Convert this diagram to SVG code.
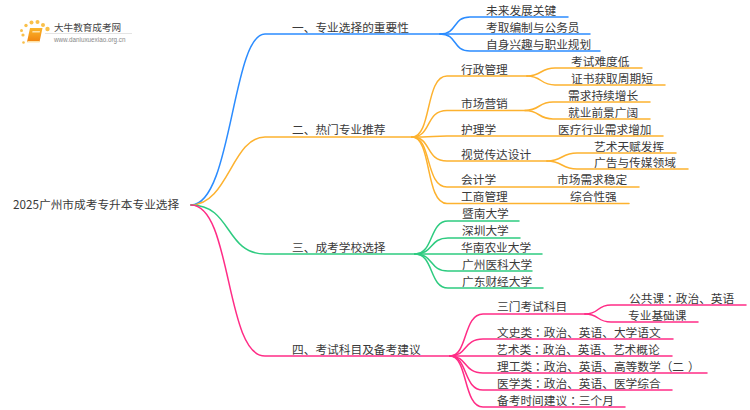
<svg xmlns="http://www.w3.org/2000/svg" width="750" height="410" viewBox="0 0 750 410">
<defs><linearGradient id="book" x1="0" y1="0" x2="0" y2="1"><stop offset="0" stop-color="#fbb62b"/><stop offset="1" stop-color="#f0830f"/></linearGradient></defs>
<style>
text{font-family:"Noto Sans CJK SC","Liberation Sans",sans-serif;font-size:11.7px;fill:#3a3a3a}
.k{font-family:"Noto Sans CJK JP","Noto Sans CJK SC",sans-serif}
.c path{fill:none;stroke-width:1.5;stroke-linecap:round}
.b path{stroke:#2b8cff}.o path{stroke:#fdb22f}.g path{stroke:#2ecb80}.p path{stroke:#ff2c86}
</style>
<rect width="750" height="410" fill="#fff"/>
<g id="logo">
<g fill="#f9c04a"><circle cx="23" cy="35" r="1.6"/><circle cx="21.500" cy="30.500" r="1.500"/><circle cx="26" cy="25.500" r="1.700"/><circle cx="31.500" cy="22.500" r="2"/><circle cx="37.500" cy="22" r="2"/><circle cx="43" cy="25" r="2"/><circle cx="47.500" cy="29" r="2.200"/><circle cx="23.500" cy="42.500" r="1.300"/></g>
<path d="M30 28h12.500l-3 14h-12.500z" fill="url(#book)"/><path d="M27 42.500h12.500l.5-1.500h-12.500z" fill="#fde2a8"/><path d="M32.500 31h7.500l-.3 1.500h-7.500z" fill="#fde2a8"/>
<path d="M45 33.500H132" stroke="#e4e4e4" stroke-width="1"/>
<text x="54" y="31" style="font-size:9.600px;fill:#444">大牛教育成考网</text>
<text x="54" y="41.500" style="font-size:6.300px;fill:#888;font-family:'Liberation Sans',sans-serif">www.daniuxuexiao.org.cn</text>
</g>
<g id="connectors" class="c">
<g class="b">
<path d="M191 205C232 205 232 34 265 34H440"/>
<path d="M440 34C458 34 452 17 470 17H568"/>
<path d="M440 34H590"/>
<path d="M440 34C458 34 452 51 470 51H600"/>
</g>
<g class="o">
<path d="M191 205C228 205 232 137 265 137H412"/>
<path d="M412 137C432 137 425 76 447 76H527"/>
<path d="M412 137C432 137 425 110.500 447 110.500H525"/>
<path d="M412 137C430 137 435 136 447 136H663"/>
<path d="M412 137C432 137 425 161 447 161H547"/>
<path d="M412 137C432 137 425 187 447 187H639"/>
<path d="M412 137C432 137 425 203.500 447 203.500H629"/>
<path d="M527 76C542 76 540 68 555 68H642"/>
<path d="M527 76C542 76 540 85 555 85H665"/>
<path d="M525 110.500C540 110.500 538 102 553 102H650"/>
<path d="M525 110.500C540 110.500 538 119 553 119H650"/>
<path d="M547 161C563 161 561 153 577 153H676"/>
<path d="M547 161C563 161 561 169 577 169H688"/>
</g>
<g class="g">
<path d="M191 205C232 205 225 254 265 254H415"/>
<path d="M415 254C434 254 429 221 448 221H519"/>
<path d="M415 254C434 254 429 238 448 238H520"/>
<path d="M415 254H542"/>
<path d="M415 254C434 254 429 271 448 271H532"/>
<path d="M415 254C434 254 429 288 448 288H543"/>
</g>
<g class="p">
<path d="M191 205C232 205 225 356 265 356H450"/>
<path d="M450 356C468 356 463 314 483 314H585"/>
<path d="M450 356C468 356 463 339 483 339H673"/>
<path d="M450 356H672"/>
<path d="M450 356C468 356 463 373 483 373H707"/>
<path d="M450 356C468 356 463 390 483 390H672"/>
<path d="M450 356C468 356 463 407 483 407H625"/>
<path d="M585 314C600 314 596 305 611 305H746"/>
<path d="M585 314C600 314 596 322 611 322H698"/>
</g>
</g>
<g id="root"><text x="13" y="209">2025广州市成考专升本专业选择</text></g>
<g id="b1"><text x="292" y="32">一、专业选择的重要性</text></g>
<g id="b1-1"><text x="486" y="15">未来发展关键</text></g>
<g id="b1-2"><text x="486" y="32">考取编制与公务员</text></g>
<g id="b1-3"><text x="486" y="49">自身兴趣与职业规划</text></g>
<g id="b2"><text x="292" y="134">二、热门专业推荐</text></g>
<g id="b2-1"><text x="461" y="74">行政管理</text></g>
<g id="b2-1-1"><text x="571" y="66">考试难度低</text></g>
<g id="b2-1-2"><text x="571" y="83">证书获取周期短</text></g>
<g id="b2-2"><text x="461" y="108">市场营销</text></g>
<g id="b2-2-1"><text x="568" y="100">需求持续增长</text></g>
<g id="b2-2-2"><text x="568" y="117">就业前景广阔</text></g>
<g id="b2-3"><text x="461" y="134">护理学</text></g>
<g id="b2-3-1"><text x="558" y="134">医疗行业需求增加</text></g>
<g id="b2-4"><text x="461" y="159">视觉传达设计</text></g>
<g id="b2-4-1"><text x="594" y="151">艺术天赋发挥</text></g>
<g id="b2-4-2"><text x="594" y="167">广告与传媒领域</text></g>
<g id="b2-5"><text x="461" y="184">会计学</text></g>
<g id="b2-5-1"><text x="557" y="184">市场需求稳定</text></g>
<g id="b2-6"><text x="461" y="201">工商管理</text></g>
<g id="b2-6-1"><text x="570" y="201">综合性强</text></g>
<g id="b3"><text x="292" y="252">三、成考学校选择</text></g>
<g id="b3-1"><text x="462" y="218">暨南大学</text></g>
<g id="b3-2"><text x="462" y="235">深圳大学</text></g>
<g id="b3-3"><text x="461" y="252">华南农业大学</text></g>
<g id="b3-4"><text x="462" y="269">广州医科大学</text></g>
<g id="b3-5"><text x="462" y="286">广东财经大学</text></g>
<g id="b4"><text x="292" y="354">四、考试科目及备考建议</text></g>
<g id="b4-1"><text x="497" y="311">三门考试科目</text></g>
<g id="b4-1-1"><text x="629" y="303">公共课<tspan class="k">：</tspan>政治、英语</text></g>
<g id="b4-1-2"><text x="628" y="320">专业基础课</text></g>
<g id="b4-2"><text x="497" y="337">文史类<tspan class="k">：</tspan>政治、英语、大学语文</text></g>
<g id="b4-3"><text x="496" y="354">艺术类<tspan class="k">：</tspan>政治、英语、艺术概论</text></g>
<g id="b4-4"><text x="497" y="371">理工类<tspan class="k">：</tspan>政治、英语、高等数学（二<tspan dx="4">）</tspan></text></g>
<g id="b4-5"><text x="497" y="388">医学类<tspan class="k">：</tspan>政治、英语、医学综合</text></g>
<g id="b4-6"><text x="497" y="405">备考时间建议<tspan class="k">：</tspan>三个月</text></g>
</svg>
